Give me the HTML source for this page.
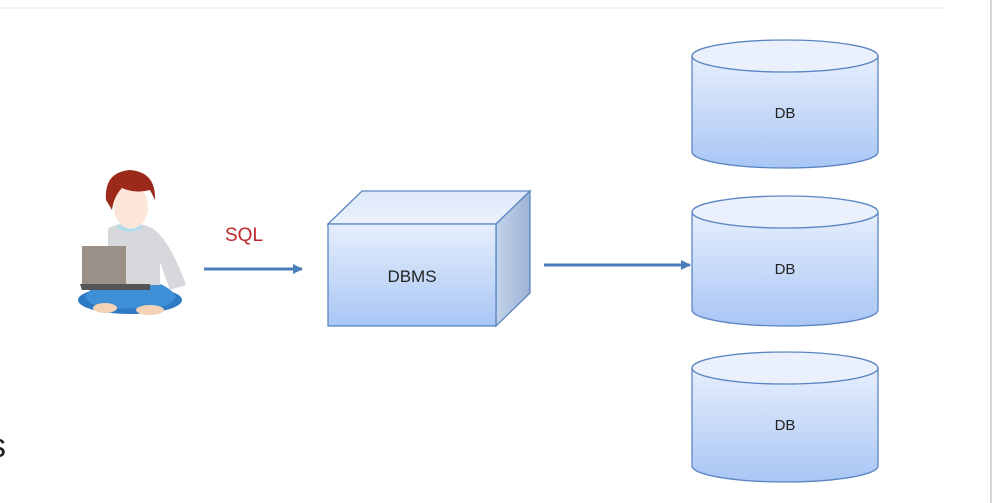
<!DOCTYPE html>
<html><head><style>
html,body{margin:0;padding:0;background:#fff;width:1000px;height:503px;overflow:hidden}
svg{display:block}
text{font-family:"Liberation Sans",sans-serif}
</style></head><body>
<svg width="1000" height="503" viewBox="0 0 1000 503" xmlns="http://www.w3.org/2000/svg">
<defs>
<linearGradient id="g" x1="0" y1="0" x2="0" y2="1">
<stop offset="0" stop-color="#e6eefc"/><stop offset="1" stop-color="#a9c6f5"/>
</linearGradient>
<linearGradient id="gt" x1="0" y1="0" x2="0" y2="1">
<stop offset="0" stop-color="#dde8fa"/><stop offset="1" stop-color="#ecf2fd"/>
</linearGradient>
<linearGradient id="gs" x1="0" y1="0" x2="1" y2="0">
<stop offset="0" stop-color="#c4d3ea"/><stop offset="1" stop-color="#9db2d4"/>
</linearGradient>
<marker id="ah" markerWidth="10" markerHeight="10" refX="9" refY="5" orient="auto" markerUnits="userSpaceOnUse">
<path d="M0,0 L10,5 L0,10 z" fill="#4a7ebb"/>
</marker>
</defs>
<line x1="0" y1="8" x2="944" y2="8" stroke="#ececec" stroke-width="1.5"/>
<line x1="991" y1="0" x2="991" y2="503" stroke="#d8d8d8" stroke-width="2"/>
<text x="-11" y="457" font-size="34" fill="#222">s</text>

<!-- person -->
<g>
<ellipse cx="130" cy="300" rx="52" ry="14" fill="#2e7bc4"/>
<path d="M85,296 Q100,275 130,286 Q160,275 176,296 Q170,312 130,308 Q92,312 85,296z" fill="#3d8fd6"/>
<ellipse cx="105" cy="308" rx="12" ry="5" fill="#f3d2b5"/>
<ellipse cx="150" cy="310" rx="14" ry="5" fill="#f3d2b5"/>
<path d="M108,228 Q130,218 152,228 Q170,240 186,285 L170,290 L160,262 L160,285 L108,285 Z" fill="#d6d8db"/>
<path d="M118,226 Q130,234 142,226" stroke="#a9dcef" stroke-width="3" fill="none"/>
<ellipse cx="131" cy="207" rx="17" ry="22" fill="#fbe6d9"/>
<path d="M106,200 Q104,172 130,170 Q156,172 155,200 L150,190 Q135,194 122,188 Q114,196 112,210 Z" fill="#9b2a1a"/>
<polygon points="82,246 126,246 126,284 82,284" fill="#9a9088"/>
<polygon points="80,284 150,284 150,290 82,290" fill="#555"/>
</g>
<text x="225" y="241" font-size="19" fill="#c0262a">SQL</text>
<line x1="204" y1="269" x2="302" y2="269" stroke="#4a7ebb" stroke-width="3" marker-end="url(#ah)"/>

<!-- DBMS cube -->
<polygon points="328,224 362,191 530,191 496,224" fill="url(#gt)" stroke="#5b86c2" stroke-width="1.3"/>
<polygon points="496,224 530,191 530,293 496,326" fill="url(#gs)" stroke="#5b86c2" stroke-width="1.3"/>
<rect x="328" y="224" width="168" height="102" fill="url(#g)" stroke="#5b86c2" stroke-width="1.3"/>
<text x="412" y="282" font-size="17" fill="#222" text-anchor="middle">DBMS</text>
<line x1="544" y1="265" x2="690" y2="265" stroke="#4a7ebb" stroke-width="3" marker-end="url(#ah)"/>

<!-- cylinders -->
<g id="c1">
<path d="M692,56 L692,152 A93,16 0 0 0 878,152 L878,56 Z" fill="url(#g)" stroke="#5b86c2" stroke-width="1.3"/>
<ellipse cx="785" cy="56" rx="93" ry="16" fill="#eaf1fd" stroke="#5b86c2" stroke-width="1.3"/>
<text x="785" y="118" font-size="15" fill="#222" text-anchor="middle">DB</text>
</g>
<g>
<path d="M692,212 L692,310 A93,16 0 0 0 878,310 L878,212 Z" fill="url(#g)" stroke="#5b86c2" stroke-width="1.3"/>
<ellipse cx="785" cy="212" rx="93" ry="16" fill="#eaf1fd" stroke="#5b86c2" stroke-width="1.3"/>
<text x="785" y="274" font-size="15" fill="#222" text-anchor="middle">DB</text>
</g>
<g>
<path d="M692,368 L692,466 A93,16 0 0 0 878,466 L878,368 Z" fill="url(#g)" stroke="#5b86c2" stroke-width="1.3"/>
<ellipse cx="785" cy="368" rx="93" ry="16" fill="#eaf1fd" stroke="#5b86c2" stroke-width="1.3"/>
<text x="785" y="430" font-size="15" fill="#222" text-anchor="middle">DB</text>
</g>
</svg>
</body></html>
